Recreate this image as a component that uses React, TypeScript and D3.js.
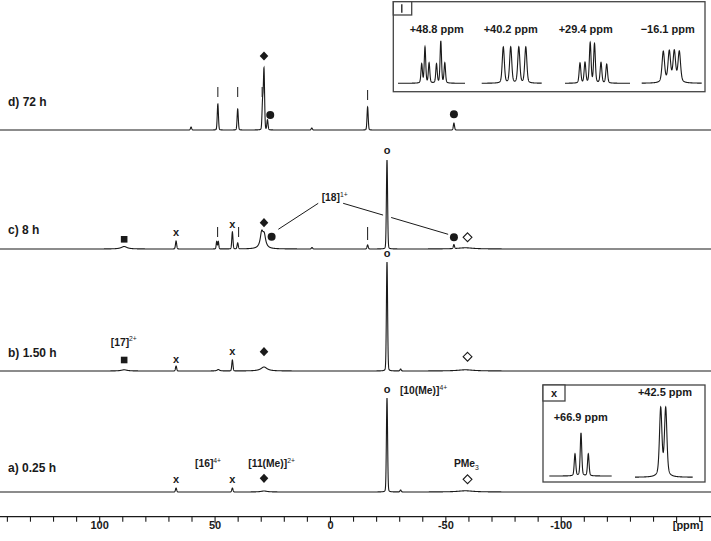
import React from "react";
import * as d3 from "d3";

const W = 711;
const H = 541;
const FONT = "'Liberation Sans', Arial, Helvetica, sans-serif";
const INK = "#1a1a1a";

// chemical-shift axis
const ppmDomain: [number, number] = [143.2, -164.9];
const axisTickValues = d3.range(140, -161, -10);
const axisLabelValues = [100, 50, 0, -50, -100];

// spectra peaks: [ppm, intensity, half-width (ppm)]
const spectrumD: [number, number, number][] = [
  [60.4, 3, 0.3], [48.8, 26, 0.3], [40.2, 21, 0.3], [29.4, 28, 0.3],
  [28.8, 60, 0.3], [27.3, 10, 0.3], [8.1, 2, 0.3], [-16.1, 23, 0.3], [-53.5, 7, 0.3],
];
const spectrumC: [number, number, number][] = [
  [89.4, 2.5, 1.5], [66.9, 8, 0.3], [49.3, 7.5, 0.25], [48.6, 7.5, 0.25],
  [42.5, 17, 0.3], [40.2, 6, 0.3], [29.8, 15, 0.75], [28.7, 12, 0.75],
  [8.0, 1.5, 0.3], [-16.1, 4, 0.3], [-24.5, 89, 0.3], [-53.5, 4, 0.3], [-58.5, 1.2, 4],
];
const spectrumB: [number, number, number][] = [
  [89.4, 1.2, 1.5], [66.9, 5, 0.3], [48.6, 1.5, 0.6], [42.5, 11, 0.3],
  [28.8, 4, 1.6], [-24.5, 109, 0.3], [-30.4, 2, 0.3], [-58.5, 1.2, 4],
];
const spectrumA: [number, number, number][] = [
  [66.9, 4, 0.3], [42.5, 4, 0.3], [28.8, 1, 1.6], [-24.5, 94, 0.3],
  [-30.4, 2, 0.3], [-58.5, 1.2, 4],
];
const traceLabels = ["d) 72 h", "c) 8 h", "b) 1.50 h", "a) 0.25 h"];

// markers: kind, ppm, height above baseline
type Mk = { k: string; p: number; h: number; h2?: number };
const markersD: Mk[] = [
  { k: "bar", p: 48.8, h: 33, h2: 43 }, { k: "bar", p: 40.2, h: 33, h2: 43 },
  { k: "bar", p: 29.6, h: 33, h2: 43 }, { k: "bar", p: -16.1, h: 30, h2: 40 },
  { k: "fdia", p: 28.8, h: 74 }, { k: "dot", p: 26.1, h: 15 }, { k: "dot", p: -53.5, h: 15.7 },
];
const markersC: Mk[] = [
  { k: "sq", p: 89.4, h: 9.7 }, { k: "x", p: 66.9, h: 16 },
  { k: "bar", p: 48.9, h: 12, h2: 22 }, { k: "x", p: 42.5, h: 24 },
  { k: "bar", p: 39.8, h: 12, h2: 22 }, { k: "fdia", p: 28.8, h: 26.3 },
  { k: "dot", p: 25.5, h: 12.3 }, { k: "bar", p: -16.1, h: 9, h2: 22 },
  { k: "o", p: -24.5, h: 98 }, { k: "dot", p: -53.5, h: 11.7 }, { k: "odia", p: -59.4, h: 11.7 },
];
const markersB: Mk[] = [
  { k: "sq", p: 89.4, h: 11 }, { k: "x", p: 66.9, h: 11 }, { k: "x", p: 42.5, h: 19.3 },
  { k: "fdia", p: 28.8, h: 19.3 }, { k: "o", p: -24.5, h: 117 }, { k: "odia", p: -59.4, h: 14.3 },
];
const markersA: Mk[] = [
  { k: "x", p: 66.9, h: 12 }, { k: "x", p: 42.5, h: 12 }, { k: "fdia", p: 28.8, h: 13.7 },
  { k: "o", p: -24.5, h: 102 }, { k: "odia", p: -59.4, h: 12.7 },
];

// inset multiplets: offsets (Hz-like units), intensities
const m488Off = [-9.8, -6.5, -2.4, 5.0, 9.3, 13.3];
const m488Int = [19, 36, 20, 19, 42, 20];
const m402Off = [-8.4, -1.0, 7.1, 14.1];
const m402Int = [36, 36, 36, 36];
const m294Off = [-17.5, -12.5, -7.3, -3.0, 3.5, 9.2];
const m294Int = [20, 20.5, 40, 39, 20.5, 19];
const m161Off = [-8.4, -2.4, 2.6, 7.6];
const m161Int = [31, 31, 31, 31];
const m669Off = [-5.5, 0.5, 7.8];
const m669Int = [22, 43, 22];
const m425Off = [-3.15, 1.85];
const m425Int = [68, 68];
const insetTopLabels = ["+48.8 ppm", "+40.2 ppm", "+29.4 ppm", "\u221216.1 ppm"];
const insetBottomLabels = ["+66.9 ppm", "+42.5 ppm"];

const x = d3.scaleLinear().domain(ppmDomain).range([0, W]);
const yI = d3.scaleLinear().domain([0, 100]).range([0, 100]);

// pseudo-Voigt line shape
const voigt = (d: number, w: number, eta: number) =>
  eta * (w * w) / (d * d + w * w) + (1 - eta) * Math.exp(-0.693 * (d / w) * (d / w));

const sumPeaks = (pk: [number, number, number][], v: number, etaSharp: number) =>
  pk.reduce((s, [c, h, w]) => s + h * voigt(v - c, w, w < 0.5 ? etaSharp : 1), 0);

function spectrumPath(peaks: [number, number, number][], base: number) {
  const pts = d3.range(ppmDomain[0], ppmDomain[1], -0.03);
  const line = d3
    .line<number>()
    .x((p) => x(p))
    .y((p) => base - yI(sumPeaks(peaks, p, 0.12)));
  return line(pts) || "";
}

function multipletPath(
  off: number[], ints: number[], w: number, eta: number, x0: number, x1: number, base: number
) {
  const half = (x1 - x0) / 2;
  const s = d3.scaleLinear().domain([-half, half]).range([x0, x1]);
  const pts = d3.range(-half, half + 0.001, 0.1);
  const line = d3
    .line<number>()
    .x((v) => s(v))
    .y((v) => base - yI(off.reduce((acc, o, i) => acc + ints[i] * voigt(v - o, w, eta), 0)));
  return line(pts) || "";
}

function Marker({ m, base }: { m: Mk; base: number }) {
  const cx = x(m.p);
  const cy = base - m.h;
  switch (m.k) {
    case "bar":
      return <line x1={cx} x2={cx} y1={base - m.h} y2={base - (m.h2 || m.h)} stroke={INK} strokeWidth={1} />;
    case "fdia":
      return <path d={`M${cx},${cy - 4.6}L${cx + 4.3},${cy}L${cx},${cy + 4.6}L${cx - 4.3},${cy}Z`} fill={INK} />;
    case "odia":
      return <path d={`M${cx},${cy - 4.4}L${cx + 4.4},${cy}L${cx},${cy + 4.4}L${cx - 4.4},${cy}Z`} fill="#fff" stroke={INK} strokeWidth={1.1} />;
    case "dot":
      return <circle cx={cx} cy={cy} r={4} fill={INK} />;
    case "sq":
      return <rect x={cx - 3.3} y={cy - 3.3} width={6.6} height={6.6} fill={INK} />;
    case "x":
    case "o":
      return (
        <text x={cx} y={cy + 3.3} textAnchor="middle" fontFamily={FONT} fontWeight="bold" fontSize={11} fill={INK}>
          {m.k}
        </text>
      );
  }
  return null;
}

export default function App() {
  const bases = [130, 249, 371, 492];
  const spectra = [spectrumD, spectrumC, spectrumB, spectrumA];
  const markers = [markersD, markersC, markersB, markersA];
  const axisY = 516.7;

  // [18] connector lines (ppm, height above baseline c)
  const bc = bases[1];
  const l1 = [[22.6, 19.7], [5.3, 45.7]];
  const l2 = [[-5.5, 45.7], [-51.0, 14.7]];
  const gapL = -22.8, gapR = -26.3;
  const interp = (a: number[], b: number[], p: number) => {
    const t = (p - a[0]) / (b[0] - a[0]);
    return a[1] + t * (b[1] - a[1]);
  };

  const chemLabel = (main: string, sup: string, p: number, h: number, base: number, sub = false) => (
    <text x={x(p)} y={base - h} fontFamily={FONT} fontSize={10.3} fontWeight="bold" fill={INK}>
      {main}
      <tspan fontSize={6.8} fontWeight="normal" dy={sub ? 2.5 : -4.5}>{sup}</tspan>
    </text>
  );

  const insetTopSlots = [[398, 465], [481.7, 541.7], [565, 630], [641.7, 701.7]];
  const insetTopCenters = [436.7, 510.7, 585.7, 667.7];
  const topMults = [
    [m488Off, m488Int, 0.85, 0.3], [m402Off, m402Int, 1.25, 0.3],
    [m294Off, m294Int, 1.0, 0.3], [m161Off, m161Int, 1.5, 0.45],
  ] as [number[], number[], number, number][];

  return (
    <svg width={W} height={H} style={{ position: "absolute", left: 0, top: 0, background: "#fff" }}>
      <rect x={0} y={0} width={W} height={H} fill="#fff" />

      {/* connector lines for [18]1+ */}
      <line x1={x(l1[0][0])} y1={bc - l1[0][1]} x2={x(l1[1][0])} y2={bc - l1[1][1]} stroke={INK} strokeWidth={1} />
      <line x1={x(l2[0][0])} y1={bc - l2[0][1]} x2={x(gapL)} y2={bc - interp(l2[0], l2[1], gapL)} stroke={INK} strokeWidth={1} />
      <line x1={x(gapR)} y1={bc - interp(l2[0], l2[1], gapR)} x2={x(l2[1][0])} y2={bc - l2[1][1]} stroke={INK} strokeWidth={1} />
      {chemLabel("[18]", "1+", 3.8, 48, bc)}

      {spectra.map((pk, i) => (
        <path key={i} d={spectrumPath(pk, bases[i])} fill="none" stroke={INK} strokeWidth={1.1} />
      ))}

      {traceLabels.map((t, i) => (
        <text key={t} x={8} y={bases[i] - [24, 15, 14, 20][i]} fontFamily={FONT} fontWeight="bold" fontSize={12} fill={INK}>
          {t}
        </text>
      ))}

      {markers.map((ms, i) => ms.map((m, j) => <Marker key={`${i}-${j}`} m={m} base={bases[i]} />))}

      {chemLabel("[17]", "2+", 95.2, 25.5, bases[2])}
      {chemLabel("[16]", "4+", 58.7, 25, bases[3])}
      {chemLabel("[11(Me)]", "2+", 35.6, 25, bases[3])}
      {chemLabel("[10(Me)]", "4+", -30.1, 98, bases[3])}
      {chemLabel("PMe", "3", -53.5, 25, bases[3], true)}

      {/* top inset */}
      <rect x={393.3} y={1.7} width={311.7} height={90} fill="#fff" stroke="#444" strokeWidth={1.3} />
      <rect x={393.3} y={1.7} width={18.4} height={13.3} fill="#fff" stroke="#444" strokeWidth={1.3} />
      <line x1={401.8} x2={401.8} y1={4.3} y2={12.8} stroke={INK} strokeWidth={1.3} />
      {insetTopLabels.map((t, i) => (
        <text key={t} x={insetTopCenters[i]} y={33} textAnchor="middle" fontFamily={FONT} fontWeight="bold" fontSize={11} fill={INK}>
          {t}
        </text>
      ))}
      {topMults.map(([o, n, w, eta], i) => (
        <path key={i} d={multipletPath(o, n, w, eta, insetTopSlots[i][0], insetTopSlots[i][1], 83.3)} fill="none" stroke={INK} strokeWidth={1.1} />
      ))}

      {/* bottom inset */}
      <rect x={543} y={385} width={162} height={97} fill="#fff" stroke="#444" strokeWidth={1.3} />
      <rect x={543} y={385} width={22} height={16} fill="#fff" stroke="#444" strokeWidth={1.3} />
      <text x={554} y={396.5} textAnchor="middle" fontFamily={FONT} fontWeight="bold" fontSize={11} fill={INK}>x</text>
      <text x={580.7} y={420.5} textAnchor="middle" fontFamily={FONT} fontWeight="bold" fontSize={11} fill={INK}>{insetBottomLabels[0]}</text>
      <text x={665} y={395.5} textAnchor="middle" fontFamily={FONT} fontWeight="bold" fontSize={11} fill={INK}>{insetBottomLabels[1]}</text>
      <path d={multipletPath(m669Off, m669Int, 0.9, 0.3, 549.3, 611.7, 476)} fill="none" stroke={INK} strokeWidth={1.1} />
      <path d={multipletPath(m425Off, m425Int, 1.45, 0.45, 635, 692.7, 477.3)} fill="none" stroke={INK} strokeWidth={1.1} />

      {/* axis */}
      <line x1={0} x2={W} y1={axisY} y2={axisY} stroke={INK} strokeWidth={1.2} />
      {axisTickValues.map((t) => (
        <line key={t} x1={x(t)} x2={x(t)} y1={axisY} y2={axisY + (t % 50 === 0 ? 6.5 : 5)} stroke={INK} strokeWidth={1.1} />
      ))}
      {axisLabelValues.map((t) => (
        <text key={t} x={x(t)} y={529} textAnchor="middle" fontFamily={FONT} fontWeight="bold" fontSize={11} fill={INK}>
          {String(t)}
        </text>
      ))}
      <text x={688} y={529} textAnchor="middle" fontFamily={FONT} fontWeight="bold" fontSize={11} fill={INK}>[ppm]</text>
    </svg>
  );
}
